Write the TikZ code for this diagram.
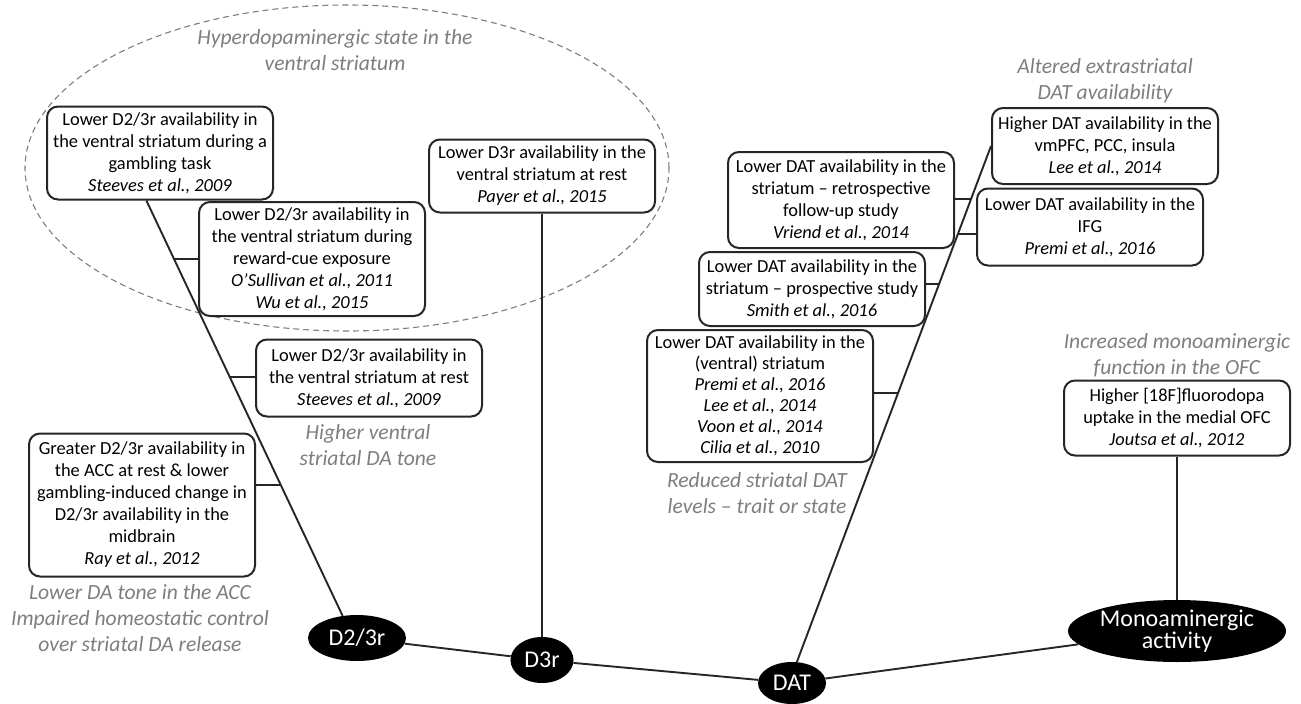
\documentclass[tikz,border=0pt]{standalone}
\usepackage{fontspec}
\setmainfont{Carlito}
\usetikzlibrary{shapes.geometric}
\definecolor{labelgray}{RGB}{125,125,130}

\begin{document}
\begin{tikzpicture}[x=1pt,y=-1pt,
    finding/.style={draw=black!85,line width=2pt,rounded corners=11pt,fill=white,align=center,
      inner sep=3pt,minimum width=226pt,font=\fontsize{18.4}{22}\selectfont},
    target/.style={ellipse,fill=black,text=white,inner sep=0pt,align=center,
      font=\fontsize{24}{20}\selectfont},
    interp/.style={text=labelgray,align=center,font=\itshape\fontsize{21.6}{26}\selectfont},
    link/.style={draw=black!85,line width=1.9pt}]
\useasboundingbox (0,0) rectangle (1301,704);

% hyperdopaminergic group
\draw[labelgray,line width=1.1pt,dash pattern=on 6pt off 4pt] (347,168) ellipse [x radius=322pt, y radius=163pt];
\node[interp] (hyper) at (335,50) {Hyperdopaminergic state in the\\ventral striatum};

% D2/3r findings
\node[finding,minimum height=93pt] (gamble) at (160,153)
  {Lower D2/3r availability in\\the ventral striatum during a\\gambling task\\\textit{Steeves et al., 2009}};
\node[finding,minimum height=114pt] (cue) at (312,259)
  {Lower D2/3r availability in\\the ventral striatum during\\reward-cue exposure\\\textit{O’Sullivan et al., 2011}\\\textit{Wu et al., 2015}};
\node[finding,minimum height=77pt] (rest) at (369,378)
  {Lower D2/3r availability in\\the ventral striatum at rest\\\textit{Steeves et al., 2009}};
\node[interp] (tone) at (368,445) {Higher ventral\\striatal DA tone};
\node[finding,minimum height=143pt] (acc) at (142,505)
  {Greater D2/3r availability in\\the ACC at rest \& lower\\gambling-induced change in\\D2/3r availability in the\\midbrain\\\textit{Ray et al., 2012}};
\node[interp] (acctone) at (140,618) {Lower DA tone in the ACC\\Impaired homeostatic control\\over striatal DA release};

% D3r finding
\node[finding,minimum height=73pt] (payer) at (542,176)
  {Lower D3r availability in the\\ventral striatum at rest\\\textit{Payer et al., 2015}};

% DAT findings
\node[interp] (extra) at (1105,81) {Altered extrastriatal\\DAT availability};
\node[finding,minimum height=76pt] (vmpfc) at (1105,146)
  {Higher DAT availability in the\\vmPFC, PCC, insula\\\textit{Lee et al., 2014}};
\node[finding,minimum height=77pt] (ifg) at (1090,227)
  {Lower DAT availability in the\\IFG\\\textit{Premi et al., 2016}};
\node[finding,minimum height=96pt] (vriend) at (841,200)
  {Lower DAT availability in the\\striatum – retrospective\\follow-up study\\\textit{Vriend et al., 2014}};
\node[finding,minimum height=74pt] (smith) at (812,289)
  {Lower DAT availability in the\\striatum – prospective study\\\textit{Smith et al., 2016}};
\node[finding,minimum height=132pt,font=\fontsize{18.4}{21}\selectfont] (ventral) at (760,396)
  {Lower DAT availability in the\\(ventral) striatum\\\textit{Premi et al., 2016}\\\textit{Lee et al., 2014}\\\textit{Voon et al., 2014}\\\textit{Cilia et al., 2010}};
\node[interp] (reduced) at (757,493) {Reduced striatal DAT\\levels – trait or state};

% monoaminergic finding
\node[interp] (ofc) at (1177,355) {Increased monoaminergic\\function in the OFC};
\node[finding,minimum height=75pt] (joutsa) at (1177,418)
  {Higher [18F]fluorodopa\\uptake in the medial OFC\\\textit{Joutsa et al., 2012}};

% targets
\node[target,minimum width=98pt,minimum height=46pt] (d23) at (357,638) {D2/3r};
\node[target,minimum width=63pt,minimum height=46pt] (d3r) at (542,660) {D3r};
\node[target,minimum width=68pt,minimum height=42pt] (dat) at (792,683) {DAT};
\node[target,minimum width=195pt,minimum height=62pt] (mono) at (1177,631) {Monoaminergic\\activity};

\draw[link] (d23) -- (d3r);
\draw[link] (d3r) -- (dat);
\draw[link] (dat) -- (mono);

% D2/3r branch
\draw[link] (d23.123) -- (gamble.254) coordinate[pos=0.86] (j2) coordinate[pos=0.576] (j4) coordinate[pos=0.316] (j5);
\draw[link] (j2) -- (j2 -| cue.west);
\draw[link] (j4) -- (j4 -| rest.west);
\draw[link] (j5) -- (j5 -| acc.east);

\draw[link] (payer) -- (d3r);

% DAT branch
\draw[link] (dat.77) -- (vmpfc.west) coordinate[pos=0.897] (jv) coordinate[pos=0.829] (ji) coordinate[pos=0.732] (js) coordinate[pos=0.522] (jp);
\draw[link] (jv) -- (jv -| vriend.east);
\draw[link] (ji) -- (ji -| ifg.west);
\draw[link] (js) -- (js -| smith.east);
\draw[link] (jp) -- (jp -| ventral.east);

\draw[link] (joutsa) -- (mono);
\end{tikzpicture}
\end{document}
